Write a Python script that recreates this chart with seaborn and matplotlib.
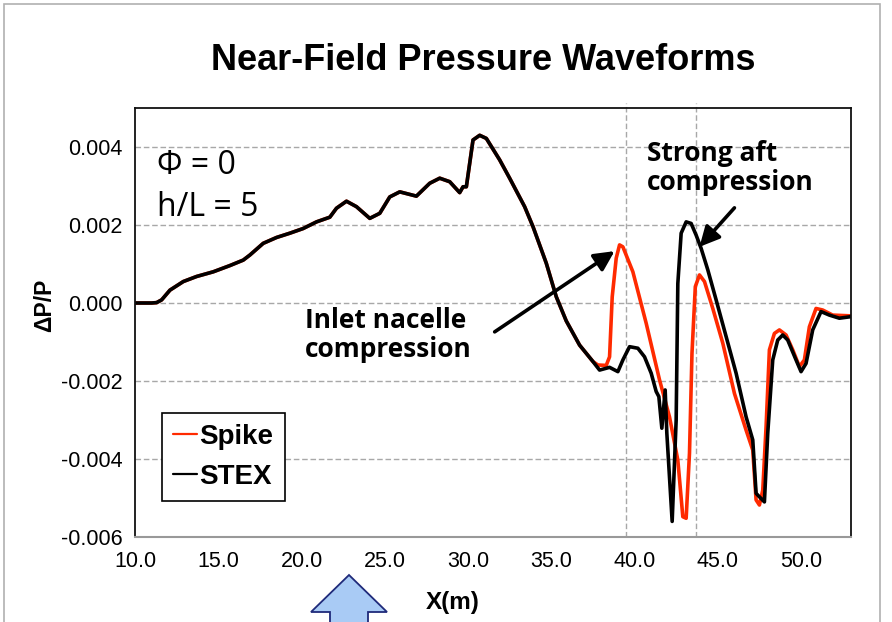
import numpy as np
import pandas as pd
import matplotlib
matplotlib.use("Agg")
import matplotlib.pyplot as plt
from matplotlib.patches import Polygon, Rectangle
import seaborn as sns

# ---- data ----
# shared front part of both waveforms
x_common = [10.0, 11.0, 11.3, 11.6, 12.1, 12.9, 13.7, 14.7, 15.7, 16.5, 16.9, 17.7,
            18.5, 19.3, 20.1, 20.9, 21.7, 22.1, 22.7, 23.3, 24.1, 24.7, 25.3, 25.9,
            26.9, 27.7, 28.3, 28.9, 29.5, 29.7, 29.9, 30.3, 30.7, 31.1, 31.9, 32.5,
            33.4, 33.9, 34.7, 35.3, 35.9, 36.7, 37.5]
y_common = [0.0, 0.0, 0.00001, 0.00008, 0.00033, 0.00055, 0.00068, 0.0008, 0.00096,
            0.0011, 0.00123, 0.00153, 0.00168, 0.00179, 0.00191, 0.00208, 0.0022,
            0.00243, 0.00261, 0.00247, 0.00217, 0.0023, 0.00272, 0.00285, 0.00274,
            0.00307, 0.0032, 0.00311, 0.00283, 0.00298, 0.00298, 0.00418, 0.0043,
            0.00422, 0.00367, 0.0032, 0.00247, 0.00196, 0.00102, 0.00016, -0.00046,
            -0.00108, -0.0015]

x_spike_tail = [37.8, 38.3, 38.5, 38.66, 38.9, 39.1, 39.3, 39.9, 40.7, 41.5, 42.1, 42.6,
                42.9, 43.1, 43.3, 43.45, 43.65, 43.9, 44.2, 44.7, 45.3, 46.0, 46.7, 47.1,
                47.3, 47.5, 47.7, 47.9, 48.1, 48.4, 48.7, 49.1, 49.5, 49.9, 50.2, 50.5,
                50.9, 51.3, 51.9, 53.0]
y_spike_tail = [-0.00159, -0.0016, -0.00138, 0.00016, 0.00115, 0.00149, 0.00144, 0.0008,
                -0.00052, -0.00197, -0.00292, -0.00403, -0.00548, -0.00552, -0.00385,
                -0.00129, 0.00042, 0.00072, 0.00055, -0.00014, -0.00103, -0.00232,
                -0.00326, -0.00377, -0.00505, -0.00518, -0.0048, -0.00317, -0.0012,
                -0.00078, -0.00069, -0.00082, -0.0012, -0.00163, -0.00146, -0.00061,
                -0.00014, -0.00018, -0.00031, -0.00033]

x_stex_tail = [37.9, 38.5, 39.0, 39.3, 39.7, 40.2, 40.6, 41.0, 41.3, 41.46, 41.64, 41.84,
               41.94, 42.26, 42.5, 42.6, 42.8, 43.1, 43.4, 43.7, 44.0, 44.4, 44.9, 45.5,
               46.1, 46.7, 47.1, 47.3, 47.5, 47.8, 48.0, 48.3, 48.6, 48.9, 49.2, 49.7,
               50.0, 50.3, 50.7, 51.2, 51.7, 52.3, 53.0]
y_stex_tail = [-0.00172, -0.00165, -0.00176, -0.00146, -0.00112, -0.00116, -0.00138,
               -0.0018, -0.00227, -0.0024, -0.00321, -0.00223, -0.00334, -0.0056, -0.003,
               0.0005, 0.00179, 0.00208, 0.00204, 0.00174, 0.0014, 0.00085, 0.00008,
               -0.00086, -0.0018, -0.00292, -0.00351, -0.00488, -0.00497, -0.0051,
               -0.00334, -0.00146, -0.00095, -0.00082, -0.00095, -0.00146, -0.00176,
               -0.00155, -0.00069, -0.00022, -0.00031, -0.00039, -0.00035]

series_names = ["Spike", "STEX"]
series_colors = ["#ff2a00", "#000000"]
marker_lines_x = [39.5, 43.7]
y_ticks = [-0.006, -0.004, -0.002, 0.0, 0.002, 0.004]
x_ticks = [10, 15, 20, 25, 30, 35, 40, 45, 50]

df = pd.concat([
    pd.DataFrame({"X": x_common + x_spike_tail, "dP": y_common + y_spike_tail, "model": "Spike"}),
    pd.DataFrame({"X": x_common + x_stex_tail, "dP": y_common + y_stex_tail, "model": "STEX"}),
], ignore_index=True)

# ---- style ----
sns.set_style("white")
plt.rcParams["font.family"] = ["Liberation Sans", "DejaVu Sans"]
plt.rcParams["axes.unicode_minus"] = False
plt.rcParams["text.color"] = "black"
plt.rcParams["axes.labelcolor"] = "black"
plt.rcParams["xtick.color"] = "black"
plt.rcParams["ytick.color"] = "black"

W, H = 892, 622
fig = plt.figure(figsize=(W / 100, H / 100), dpi=100)
ax = fig.add_axes([135 / W, (H - 537) / H, 716 / W, 429 / H])

sns.lineplot(data=df, x="X", y="dP", hue="model", hue_order=series_names,
             palette=dict(zip(series_names, series_colors)), estimator=None,
             sort=False, linewidth=2.6, ax=ax)
for ln in ax.get_lines():
    ln.set_solid_joinstyle("round")
    ln.set_solid_capstyle("round")

ax.set_xlim(10, 53)
ax.set_ylim(-0.006, 0.005)
ax.set_yticks(y_ticks)
ax.set_yticklabels([f"{v:.3f}" for v in y_ticks])
ax.set_xticks(x_ticks)
ax.set_xticklabels([f"{v:.1f}" for v in x_ticks])
ax.tick_params(axis="both", labelsize=15.5, labelcolor="black", length=5, width=1,
               direction="out", pad=5)
ax.tick_params(axis="x", color="#999999", length=4, pad=6)
ax.tick_params(axis="y", color="#999999", pad=4)

ax.yaxis.grid(True, linestyle=(0, (4, 2)), color="#a8a8a8", linewidth=1)
ax.xaxis.grid(False)
for xv in marker_lines_x:
    ax.axvline(xv, ymin=0, ymax=1.012, linestyle=(0, (4, 2)), color="#a8a8a8",
               linewidth=1, clip_on=False, zorder=0.5)

for side in ["left", "top", "right"]:
    ax.spines[side].set_color("#111111")
    ax.spines[side].set_linewidth(1.3)
ax.spines["bottom"].set_color("#999999")
ax.spines["bottom"].set_linewidth(1.5)

ax.set_xlabel("X(m)", fontsize=17.5, fontweight="bold")
ax.xaxis.set_label_coords(0.444, -0.125)
ax.set_ylabel("ΔP/P", fontsize=16.5, fontweight="bold")
ax.yaxis.set_label_coords(-0.11, 0.54)

leg = ax.legend(loc="lower left", bbox_to_anchor=(0.0377, 0.084), borderaxespad=0,
                frameon=True, fancybox=False, edgecolor="black", framealpha=1,
                handlelength=0.85, handletextpad=0.1, borderpad=0.4,
                labelspacing=0.5, prop={"weight": "bold", "size": 20})
leg.get_frame().set_linewidth(1.2)
for line in leg.get_lines():
    line.set_linewidth(1.6)

# annotations
txt_font = ["Open Sans", "DejaVu Sans"]
ax.text(11.35, 0.00352, "Φ = 0", fontsize=23, family=txt_font, va="center", ha="left")
ax.text(11.35, 0.00245, "h/L = 5", fontsize=23, family=txt_font, va="center", ha="left")

bold_font = ["Open Sans", "DejaVu Sans"]
ax.text(20.2, -0.00083, "Inlet nacelle\ncompression", fontsize=19, family=bold_font,
        fontweight="bold", va="center", ha="left", linespacing=1.1)
ax.text(40.75, 0.00345, "Strong aft\ncompression", fontsize=19, family=bold_font,
        fontweight="bold", va="center", ha="left", linespacing=1.1)

arrow_kw = dict(arrowstyle="-|>", color="black", lw=2.6, mutation_scale=30,
                shrinkA=0, shrinkB=0)
ax.annotate("", xy=(38.8, 0.00133), xytext=(31.6, -0.00074), arrowprops=arrow_kw)
ax.annotate("", xy=(43.9, 0.00144), xytext=(46.0, 0.00244), arrowprops=arrow_kw)

# title
fig.text(483 / W, 1 - 60 / H, "Near-Field Pressure Waveforms", fontsize=26,
         fontweight="bold", ha="center", va="center")

# slide frame and blue up arrow decoration
def fp(x, y):
    return (x / W, 1 - y / H)

frame = Rectangle(fp(4, 640), (880 - 4) / W, (640 - 4) / H, transform=fig.transFigure,
                  fill=False, edgecolor="#b0b0b0", linewidth=1.2)
fig.patches.append(frame)
arrow_pts = [fp(349, 575), fp(387, 612), fp(368, 612), fp(368, 640), fp(330, 640),
             fp(330, 612), fp(311, 612)]
fig.patches.append(Polygon(arrow_pts, closed=True, transform=fig.transFigure,
                           facecolor="#a9cbf5", edgecolor="#1f2a7a", linewidth=1.3))

fig.savefig("out.png", dpi=100)
